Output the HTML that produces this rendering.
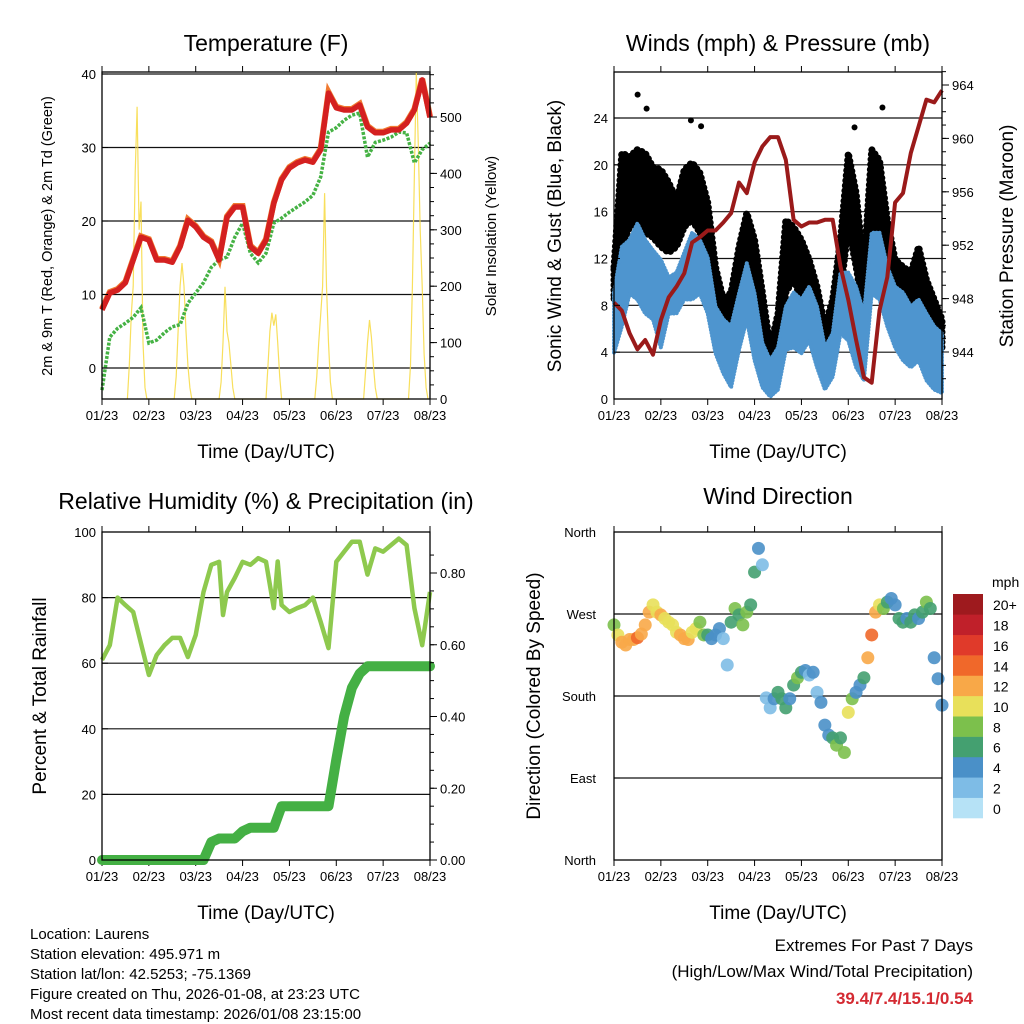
<!DOCTYPE html>
<html><head><meta charset="utf-8"><style>
html,body{margin:0;padding:0;background:#fff;}
svg{display:block;font-family:"Liberation Sans",sans-serif;}
</style></head><body>
<svg id="fig" width="1024" height="1024" viewBox="0 0 1024 1024" xmlns="http://www.w3.org/2000/svg">
<rect width="1024" height="1024" fill="#fff"/>
<g id="p1"></g>
<g id="p2"></g>
<g id="p3"></g>
<g id="p4"></g>
<g font-size="15" fill="#000">
<text x="30" y="939">Location: Laurens</text>
<text x="30" y="959">Station elevation: 495.971 m</text>
<text x="30" y="979">Station lat/lon: 42.5253; -75.1369</text>
<text x="30" y="999">Figure created on Thu, 2026-01-08, at 23:23 UTC</text>
<text x="30" y="1019">Most recent data timestamp: 2026/01/08 23:15:00</text>
</g>
<g text-anchor="end">
<text x="973" y="951" font-size="17">Extremes For Past 7 Days</text>
<text x="973" y="977" font-size="17">(High/Low/Max Wind/Total Precipitation)</text>
<text x="973" y="1004" font-size="17" font-weight="bold" fill="#d42a32">39.4/7.4/15.1/0.54</text>
</g>
</svg>
<script>
// ---------- data ----------
const dayLabels = ["01/23","02/23","03/23","04/23","05/23","06/23","07/23","08/23"];
const hours4 = [0,4,8,12,16,20,24,28,32,36,40,44,48,52,56,60,64,68,72,76,80,84,88,92,96,100,104,108,112,116,120,124,128,132,136,140,144,148,152,156,160,164,168];
const tempF = [7.9,10.2,10.6,11.6,14.7,17.8,17.4,14.7,14.7,14.4,16.5,20.1,19.2,17.8,17.1,14.7,20.5,21.9,21.9,16.5,15.6,17.4,22.4,25.6,27.2,27.9,28.3,28.0,29.7,37.4,35.4,35.1,35.1,35.8,32.8,32.0,32.0,32.4,32.4,33.3,35.1,39.2,34.1];
const dewF = [-3.0,4.2,5.4,6.1,6.9,8.2,3.4,3.8,4.8,5.6,5.9,8.8,10.2,11.6,13.7,14.7,15.1,17.8,19.7,15.6,14.3,15.6,19.7,20.4,21.2,21.9,22.6,23.5,26.0,32.1,32.7,33.7,34.4,34.7,28.7,30.7,31.0,31.4,32.1,32.0,27.9,29.7,30.6];
const solarHours = [13,14,15,16,17,18,19,20,21,22,23, 37,38,39,40,41,42,43,44,45,46, 60,61,62,63,64,65,66,67,68, 84,85,86,87,88,89,90,91,92, 109,110,111,112,113,114,115,116,117,118, 134,135,136,137,138,139,140,141, 157,158,159,160,161,162,163,164,165,166,167];
const solarWm2 = [0,60,150,200,400,518,300,350,100,20,0, 0,40,120,200,241,200,120,60,20,0, 0,30,100,199,120,100,60,20,0, 0,60,120,153,130,150,100,40,0, 0,40,100,150,200,365,200,100,30,0, 0,50,100,140,110,60,20,0, 0,60,200,400,580,450,300,200,80,20,0];
const pressureMb = [947.7,947.1,945.4,944.2,944.9,943.8,946.4,948.1,948.9,949.9,952.2,952.6,953.1,953.1,953.7,954.4,956.7,955.9,958.2,959.4,960.1,960.1,958.4,953.9,953.4,953.7,953.7,953.9,953.9,950.4,947.9,944.9,942.1,941.7,947.1,949.6,955.2,955.9,958.9,960.9,962.9,962.7,963.6];
const windHigh = [9.1,13,13.6,15,13.6,12.7,11.9,10.4,10.8,12.5,14.2,13.6,12.1,7.9,6.8,6.2,9,11.6,9,4.8,3.3,4.4,7.9,9.1,8.5,9.6,7.9,4.4,5.6,10.8,10.8,9.6,7.3,14.2,14.2,11.3,9.6,9.1,7.9,8.5,7.3,6.2,5.6];
const windLow = [3.9,6.2,9,8.5,7.3,6.8,4.4,7.3,7.3,8.5,8.5,9,7.3,3.9,2.2,1.0,4.2,6.8,3.3,1,0.2,0.8,4.2,4.4,3.9,5,2.7,0.8,1.9,5.6,5,2.7,1.6,9,8.5,6.2,4.4,3.3,2.7,3.3,1.6,0.8,0.5];
const gustHigh = [11.3,21,20.7,21.3,21,19.8,19.6,18.5,17,19.6,20.2,19.3,16.8,11.3,8.5,9.1,13,15.9,13.6,9.1,4.4,7.3,15.3,14.7,13.6,11.9,9.6,6.2,8.5,13.6,21,17.6,11.3,21.3,20.4,15.3,11.9,11.3,10.8,13,10.2,8.5,6.8];
const gustLow = [8.5,13,14.7,15.3,14.2,13.8,13,12.5,13,14.7,15.3,14.2,10.8,7.3,4.4,3.9,7.6,10.8,7.3,3.3,1.6,3.3,9.1,10.2,8.5,7.3,5.6,3.3,5,9.1,14.7,11.3,7.3,14.2,14.2,10.8,7.9,6.8,6.2,7.9,6.2,4.4,4.2];
const gustPeakHours = [12.1,16.7,39.4,44.6,123.2,137.5];
const gustPeakMph = [26,24.8,23.8,23.3,23.2,24.9];
const rhPctHours = [0,4,8,12,16,20,24,28,32,36,40,44,48,52,56,60,62,64,68,72,76,80,84,88,90,92,96,100,104,108,112,116,120,124,128,132,136,140,144,148,152,156,160,164,168];
const rhPct = [61,65.5,80,77.7,75.6,66,56.4,62.5,65.5,67.7,67.7,61.9,68.6,81.7,90,90.9,74.7,81.7,86,90.9,90,92,90.9,76.8,91,77.7,75.6,76.8,77.7,80,72.6,64.6,90.9,94,97,97,87,95,94,96,98,96,76.8,65.5,81.7];
const precipIn = [0,0,0,0,0,0,0,0,0,0,0,0,0,0,0.05,0.06,0.06,0.06,0.08,0.09,0.09,0.09,0.09,0.15,0.15,0.15,0.15,0.15,0.15,0.15,0.28,0.40,0.48,0.52,0.54,0.54,0.54,0.54,0.54,0.54,0.54,0.54,0.54];
const hours2 = [0,2,4,6,8,10,12,14,16,18,20,22,24,26,28,30,32,34,36,38,40,42,44,46,48,50,52,54,56,58,60,62,64,66,68,70,72,74,76,78,80,82,84,86,88,90,92,94,96,98,100,102,104,106,108,110,112,114,116,118,120,122,124,126,128,130,132,134,136,138,140,142,144,146,148,150,152,154,156,158,160,162,164,166,168];
const dirDeg = [258,247,239,236,242,242,244,248,258,272,280,272,269,265,261,258,250,247,243,242,250,254,261,247,247,243,247,254,243,214,261,276,269,258,272,280,316,342,324,178,167,177,184,177,167,177,192,200,206,208,203,206,184,173,148,137,134,126,134,118,162,177,184,192,200,222,247,272,280,276,283,287,280,265,261,265,261,269,265,272,283,276,222,199,170];
const dirSpeed = [7,9,11,12,12,11,13,12,12,11,9,10,11,10,10,9,10,11,12,11,10,9,7,7,6,4,3,4,2,2,6,7,6,8,7,6,5,4,1,2,2,3,5,6,6,3,6,7,5,4,2,3,2,3,4,4,5,7,6,8,9,7,3,3,5,11,13,12,10,7,5,4,4,6,5,4,6,5,4,6,7,5,3,3,4];
const speedLevels = ["0","2","4","6","8","10","12","14","16","18","20+"];
const speedColors = ["#b6e2f6","#7ebce6","#4a90c8","#44a070","#7cc04c","#e8e05a","#f8a848","#f0682a","#e03a2a","#c0202a","#9e1a1e"];

// ---------- helpers ----------
const NS="http://www.w3.org/2000/svg";
function mk(parent,tag,attrs,text){const e=document.createElementNS(NS,tag);for(const k in attrs)e.setAttribute(k,attrs[k]);if(text!==undefined)e.textContent=text;parent.appendChild(e);return e;}
function lin(d0,d1,r0,r1){return v=>r0+(v-d0)*(r1-r0)/(d1-d0);}

function frame(g,x0,x1,y0,y1,title,titleY){
  const xs=lin(0,168,x0,x1);
  const t=mk(g,'text',{x:(x0+x1)/2,y:titleY,'font-size':23,'text-anchor':'middle'},title);
  
  
  for(let i=0;i<dayLabels.length;i++){
    const x=xs(i*24);
    mk(g,'line',{x1:x,x2:x,y1:y1,y2:y1+6,stroke:'#000','stroke-width':1});
    mk(g,'line',{x1:x,x2:x,y1:y0,y2:y0-6,stroke:'#000','stroke-width':1});
    const l=mk(g,'text',{x:x,y:y1+21,'font-size':13,'text-anchor':'middle'},dayLabels[i]);
    
    
  }
  const xt=mk(g,'text',{x:(x0+x1)/2,y:y1+59,'font-size':19,'text-anchor':'middle'},'Time (Day/UTC)');
  
  
  return xs;
}
function border(g,x0,x1,y0,y1){
  const r=mk(g,'rect',{x:x0,y:y0,width:x1-x0,height:y1-y0,fill:'none',stroke:'#000','stroke-width':1.3});
  
  
}
function gridH(g,x0,x1,y){mk(g,'line',{x1:x0,x2:x1,y1:y,y2:y,stroke:'#111','stroke-width':1.2});}
function leftTicks(g,x0,vals,ys,fmt,size){
  vals.forEach(v=>{const y=ys(v);mk(g,'line',{x1:x0,x2:x0+6,y1:y,y2:y,stroke:'#000'});
    const l=mk(g,'text',{x:x0-6,y:y+5,'font-size':size||13,'text-anchor':'end'},fmt?fmt(v):v);
    
    });
}
function rightTicks(g,x1,vals,ys,fmt,minor){
  if(minor) minor.forEach(v=>{const y=ys(v);mk(g,'line',{x1:x1,x2:x1+4,y1:y,y2:y,stroke:'#000'});});
  vals.forEach(v=>{const y=ys(v);mk(g,'line',{x1:x1,x2:x1+7,y1:y,y2:y,stroke:'#000'});
    const l=mk(g,'text',{x:x1+10,y:y+5,'font-size':13},fmt?fmt(v):v);
    
    });
}
function vtitle(g,x,y,txt,size,name){
  const t=mk(g,'text',{x:x,y:y,'font-size':size,'text-anchor':'middle',transform:`rotate(-90 ${x} ${y})`},txt);
  
  
}
function pathOf(xsArr,ysArr,xs,ys){return xsArr.map((h,i)=>(i?'L':'M')+xs(h).toFixed(1)+','+ys(ysArr[i]).toFixed(1)).join('');}

// ---------- panel 1: temperature ----------
(function(){
  const g=document.getElementById('p1');const x0=102,x1=430,y0=72,y1=399;
  const xs=frame(g,x0,x1,y0,y1,'Temperature (F)',51);
  const ys=lin(0,40,368,74);const ss=lin(0,500,399,117);
  [0,10,20,30,40].forEach(v=>gridH(g,x0,x1,ys(v)));
  const sp=mk(g,'path',{d:pathOf(solarHours,solarWm2,xs,ss),fill:'none',stroke:'#f7dc4a','stroke-width':1.2,opacity:0.9});
  
  
  const dp=mk(g,'path',{d:pathOf(hours4,dewF,xs,ys),fill:'none',stroke:'#45b244','stroke-width':3.5,'stroke-dasharray':'3 1.5'});
  
  
  const op=mk(g,'path',{d:pathOf(hours4,tempF,xs,ys),fill:'none',stroke:'#f07a30','stroke-width':6,transform:'translate(0,-1)'});
  
  
  const tp=mk(g,'path',{d:pathOf(hours4,tempF,xs,ys),fill:'none',stroke:'#d42020','stroke-width':5.5,'stroke-linejoin':'round'});
  
  
  border(g,x0,x1,y0,y1);
  leftTicks(g,x0,[0,10,20,30,40],ys);
  const minor=[];for(let v=0;v<=575;v+=25)minor.push(v);
  rightTicks(g,x1,[0,100,200,300,400,500],ss,null,minor);
  vtitle(g,52,236,'2m & 9m T (Red, Orange) & 2m Td (Green)',14.5,'left-axis-title');
  vtitle(g,496,236,'Solar Insolation (Yellow)',15,'right-axis-title');
})();

// ---------- panel 2: winds & pressure ----------
(function(){
  const g=document.getElementById('p2');const x0=614,x1=942,y0=72,y1=399;
  const xs=frame(g,x0,x1,y0,y1,'Winds (mph) & Pressure (mb)',51);
  const ys=lin(0,24,399,118);const ps=lin(944,964,352,85);
  [4,8,12,16,20,24].forEach(v=>gridH(g,x0,x1,ys(v)));
  function band(hi,lo,color,w,name,dash){
    let d=hours4.map((h,i)=>(i?'L':'M')+xs(h).toFixed(1)+','+ys(hi[i]).toFixed(1)).join('');
    for(let i=hours4.length-1;i>=0;i--)d+='L'+xs(hours4[i]).toFixed(1)+','+ys(lo[i]).toFixed(1);
    const a={d:d+'Z',fill:color,stroke:color,'stroke-width':w,'stroke-linejoin':'round','stroke-linecap':'round'};
    if(dash)a['stroke-dasharray']=dash;
    const p=mk(g,'path',a);
    
    
  }
  band(gustHigh,gustLow,'#000',7,'gust-scatter','0.1 5');
  gustPeakHours.forEach((h,i)=>{const c=mk(g,'circle',{cx:xs(h),cy:ys(gustPeakMph[i]),r:3,fill:'#000'});
    
    });
  band(windHigh,windLow,'#4e95cf',4,'sonic-wind-series','0.1 3');
  const pp=mk(g,'path',{d:pathOf(hours4,pressureMb,xs,ps),fill:'none',stroke:'#9a1a1a','stroke-width':4,'stroke-linejoin':'round'});
  
  
  border(g,x0,x1,y0,y1);
  leftTicks(g,x0,[0,4,8,12,16,20,24],ys);
  const minor=[];for(let v=942;v<=965;v++)minor.push(v);
  rightTicks(g,x1,[944,948,952,956,960,964],ps,null,minor);
  vtitle(g,561,236,'Sonic Wind & Gust (Blue, Black)',19,'left-axis-title');
  vtitle(g,1013,236,'Station Pressure (Maroon)',19,'right-axis-title');
})();

// ---------- panel 3: RH & precip ----------
(function(){
  const g=document.getElementById('p3');const x0=102,x1=430,y0=532,y1=860;
  const xs=frame(g,x0,x1,y0,y1,'Relative Humidity (%) & Precipitation (in)',509);
  const ys=lin(0,100,860,532);const ps=lin(0,0.8,860,573);
  [20,40,60,80].forEach(v=>gridH(g,x0,x1,ys(v)));
  const rp=mk(g,'path',{d:pathOf(rhPctHours,rhPct,xs,ys),fill:'none',stroke:'#8ec94e','stroke-width':4.5,'stroke-linejoin':'round'});
  
  
  const pr=mk(g,'path',{d:pathOf(hours4,precipIn,xs,ps),fill:'none',stroke:'#44b044','stroke-width':10,'stroke-linejoin':'round','stroke-linecap':'round'});
  
  
  border(g,x0,x1,y0,y1);
  leftTicks(g,x0,[0,20,40,60,80,100],ys);
  const minor=[];for(let v=0;v<=0.9;v+=0.05)minor.push(v);
  rightTicks(g,x1,[0,0.2,0.4,0.6,0.8],ps,v=>v.toFixed(2),minor);
  vtitle(g,46,696,'Percent & Total Rainfall',19,'left-axis-title');
})();

// ---------- panel 4: wind direction ----------
(function(){
  const g=document.getElementById('p4');const x0=614,x1=942,y0=532,y1=860;
  const xs=frame(g,x0,x1,y0,y1,'Wind Direction',504);
  const ys=lin(0,360,860,532);
  [90,180,270].forEach(v=>gridH(g,x0,x1,ys(v)));
  function colorFor(s){let i=Math.floor((s+1)/2);if(i<0)i=0;if(i>10)i=10;return speedColors[i];}
  hours2.forEach((h,i)=>{
    const c=mk(g,'circle',{cx:xs(h),cy:ys(dirDeg[i]),r:6.5,fill:colorFor(dirSpeed[i]),opacity:0.9});
    
    
  });
  border(g,x0,x1,y0,y1);
  const labs=['North','East','South','West','North'];
  [0,90,180,270,360].forEach((v,i)=>{const y=ys(v);mk(g,'line',{x1:x0,x2:x0+6,y1:y,y2:y,stroke:'#000'});
    const l=mk(g,'text',{x:x0-18,y:y+5,'font-size':13,'text-anchor':'end'},labs[i]);
    
    });
  vtitle(g,540,696,'Direction (Colored By Speed)',19,'left-axis-title');
  const cb=mk(g,'g',{});
  
  
  const u=mk(cb,'text',{x:992,y:587,'font-size':14},'mph');
  
  
  const bh=(818-594)/speedColors.length;
  for(let i=0;i<speedColors.length;i++){
    const y=818-(i+1)*bh;
    const r=mk(cb,'rect',{x:953,y:y,width:30,height:bh+0.3,fill:speedColors[i]});
    
    
    const t=mk(cb,'text',{x:993,y:y+bh/2+6,'font-size':14},speedLevels[i]);
    
    
  }
})();
</script>
</body></html>
